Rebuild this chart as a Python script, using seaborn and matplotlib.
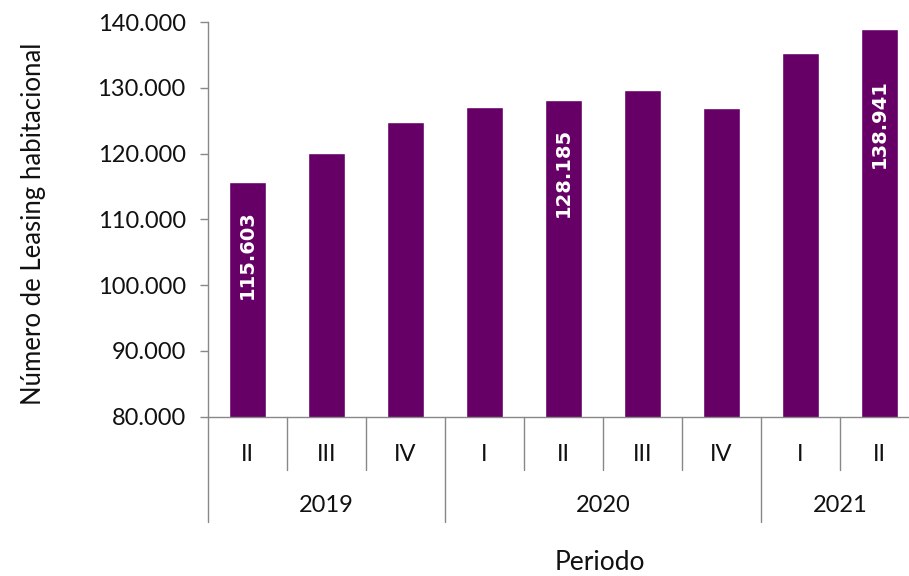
import pandas as pd
import matplotlib
matplotlib.use('Agg')
import matplotlib.pyplot as plt
import matplotlib.transforms as mtransforms
from matplotlib.ticker import FuncFormatter
import seaborn as sns

# data
periods = ['2019-II', '2019-III', '2019-IV', '2020-I', '2020-II', '2020-III', '2020-IV', '2021-I', '2021-II']
quarters = ['II', 'III', 'IV', 'I', 'II', 'III', 'IV', 'I', 'II']
years = ['2019', '2020', '2021']
year_counts = [3, 4, 2]
leasing = [115603, 120150, 124780, 127120, 128185, 129630, 126900, 135300, 138941]
labelled = [0, 4, 8]


def thousands(v, pos=None):
    return f'{v:,.0f}'.replace(',', '.')


def main():
    df = pd.DataFrame({'periodo': periods, 'leasing': leasing})

    sns.set_style('white')
    plt.rcParams['font.family'] = ['Lato', 'DejaVu Sans']

    fig = plt.figure(figsize=(9.09, 5.76), dpi=100)
    ax = fig.add_axes([0.2288, 0.2766, 0.782, 0.6852])

    sns.barplot(data=df, x='periodo', y='leasing', order=periods,
                color='#660066', width=0.47, saturation=1, ax=ax)

    ax.set_ylim(80000, 140000)
    ax.set_xlim(-0.5, len(periods) - 0.5)
    ax.set_yticks(range(80000, 140001, 10000))
    ax.yaxis.set_major_formatter(FuncFormatter(thousands))
    ax.tick_params(axis='y', labelsize=17, length=6, width=1, color='#888888',
                   pad=10, left=True, labelcolor='#111111')
    ax.set_xticks([])
    ax.set_xlabel('')
    ax.set_ylabel('Número de Leasing habitacional', fontsize=18.5, color='#111111')
    ax.yaxis.set_label_coords(-0.228, 0.488)

    for side in ['top', 'right']:
        ax.spines[side].set_visible(False)
    for side in ['left', 'bottom']:
        ax.spines[side].set_color('#888888')
        ax.spines[side].set_linewidth(1)

    # value labels inside the selected bars
    for i in labelled:
        ax.text(i, leasing[i] - 11000 if i < 8 else leasing[i] - 14350, thousands(leasing[i]),
                rotation=90, ha='center', va='center', color='white',
                fontsize=14, fontweight='bold', family='DejaVu Sans')

    # two-level category axis
    trans = mtransforms.blended_transform_factory(ax.transData, ax.transAxes)
    for i, q in enumerate(quarters):
        ax.text(i, -0.097, q, transform=trans, ha='center', va='center',
                fontsize=17, color='#111111')
    year_edges = [-0.5]
    for c in year_counts:
        year_edges.append(year_edges[-1] + c)
    for k, y in enumerate(years):
        mid = (year_edges[k] + year_edges[k + 1]) / 2
        ax.text(mid, -0.224, y, transform=trans, ha='center', va='center',
                fontsize=17, color='#111111')
    for b in [i + 0.5 for i in range(-1, len(periods) - 1)]:
        low = -0.266 if b in year_edges else -0.135
        ax.plot([b, b], [0, low], transform=trans, color='#888888', lw=1, clip_on=False)

    fig.text(600 / 909, 1 - 563 / 576, 'Periodo', ha='center', va='center',
             fontsize=19, color='#111111')

    fig.savefig('out.png', dpi=100)


if __name__ == '__main__':
    main()
